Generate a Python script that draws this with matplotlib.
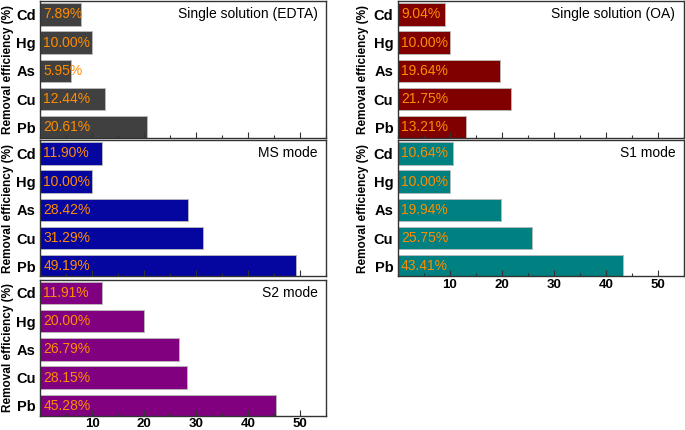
import matplotlib
matplotlib.use("Agg")
import matplotlib.pyplot as plt
from matplotlib.ticker import MultipleLocator
import matplotlib.transforms as mtransforms

plt.rcParams['font.family'] = ['Liberation Sans', 'DejaVu Sans']

metals = ["Cd", "Hg", "As", "Cu", "Pb"]
edta = [7.89, 10.00, 5.95, 12.44, 20.61]
oa = [9.04, 10.00, 19.64, 21.75, 13.21]
ms = [11.90, 10.00, 28.42, 31.29, 49.19]
s1 = [10.64, 10.00, 19.94, 25.75, 43.41]
s2 = [11.91, 20.00, 26.79, 28.15, 45.28]
titles = ["Single solution (EDTA)", "Single solution (OA)", "MS mode", "S1 mode", "S2 mode"]
x_ticks = [10, 20, 30, 40, 50]

panels = [
    (edta, "#404040", titles[0], (0.0584, 0.6802), False, -0.092),
    (oa, "#800000", titles[1], (0.5803, 0.6802), False, -0.100),
    (ms, "#0505a0", titles[2], (0.0584, 0.3570), False, -0.092),
    (s1, "#008080", titles[3], (0.5803, 0.3570), True, -0.100),
    (s2, "#800080", titles[4], (0.0584, 0.0326), True, -0.092),
]

fig = plt.figure(figsize=(6.85, 4.30), dpi=100)
W, H = 0.418, 0.3165

for vals, color, title, (lx, by), show_x, lab_x in panels:
    ax = fig.add_axes([lx, by, W, H])
    ypos = [4 - i for i in range(len(metals))]
    ax.barh(ypos, vals, height=0.8, color=color, edgecolor="#bbbbbb", linewidth=0.6)
    for y, v in zip(ypos, vals):
        ax.annotate(f"{v:.2f}%", xy=(0, y), xytext=(2.5, 0), textcoords="offset points",
                    ha="left", va="center", color="#ff8c00", fontsize=10)
    ax.set_xlim(0, 55)
    ax.set_ylim(-0.36, 4.46)
    ax.set_yticks(ypos)
    ax.set_yticklabels(metals, fontsize=10.5, fontweight="bold")
    ax.tick_params(axis="y", length=0, pad=3)
    ax.set_xticks(x_ticks)
    ax.xaxis.set_minor_locator(MultipleLocator(5))
    ax.tick_params(axis="x", which="major", direction="in", length=4, width=0.8, color="#333333")
    ax.tick_params(axis="x", which="minor", direction="in", length=2, width=0.8, color="#333333")
    if show_x:
        ax.set_xticklabels([str(t) for t in x_ticks], fontsize=9.5, fontweight="bold")
        ax.tick_params(axis="x", which="major", pad=1.5)
    else:
        ax.set_xticklabels([])
    for sp in ax.spines.values():
        sp.set_color("#333333")
        sp.set_linewidth(1.0)
    ax.set_ylabel("Removal efficiency (%)", fontsize=8.5, fontweight="bold")
    ax.yaxis.set_label_coords(lab_x, 0.5)
    trans = mtransforms.blended_transform_factory(ax.transAxes, ax.transData)
    ax.text(0.97, 4, title, transform=trans, ha="right", va="center", fontsize=10)

fig.savefig("out.png", dpi=100)
